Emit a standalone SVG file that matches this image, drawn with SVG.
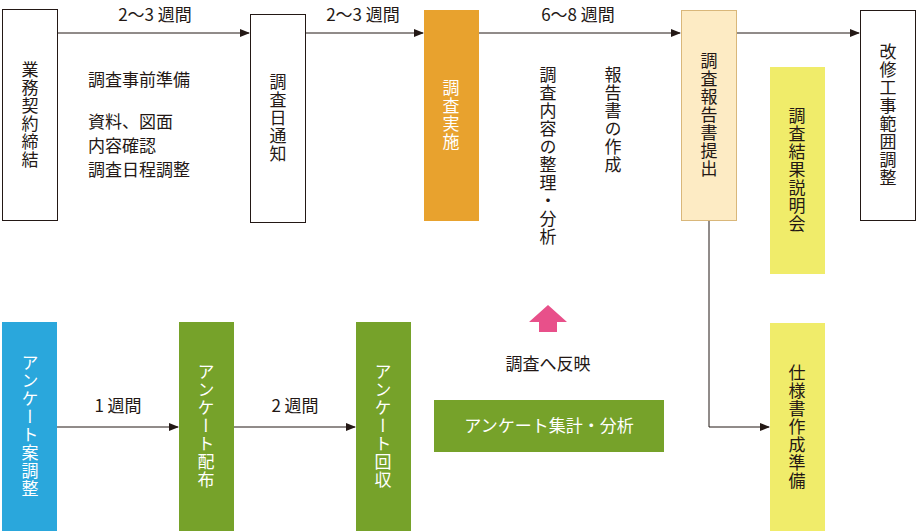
<svg xmlns="http://www.w3.org/2000/svg" width="917" height="532" viewBox="0 0 917 532">
<style>
text{font-family:"Noto Sans CJK JP","Noto Sans",sans-serif;font-size:17px;fill:#231815}
.v{writing-mode:vertical-rl;text-anchor:middle;letter-spacing:1px}
.w{fill:#fff}
.wb{fill:#fff;stroke:#231815;stroke-width:1}
.ln{stroke:#231815;stroke-width:1;fill:none}
</style>
<defs>
<marker id="a" markerWidth="10" markerHeight="8" refX="9" refY="4" orient="auto" markerUnits="userSpaceOnUse"><path d="M0,0 L10,4 L0,8 Z" fill="#231815"/></marker>
</defs>
<g id="connectors">
<line class="ln" x1="57" y1="33" x2="249" y2="33" marker-end="url(#a)"/>
<line class="ln" x1="305" y1="33" x2="423" y2="33" marker-end="url(#a)"/>
<line class="ln" x1="478" y1="33" x2="680" y2="33" marker-end="url(#a)"/>
<line class="ln" x1="736" y1="33" x2="859" y2="33" marker-end="url(#a)"/>
<line class="ln" x1="57" y1="427" x2="178" y2="427" marker-end="url(#a)"/>
<line class="ln" x1="234" y1="427" x2="355" y2="427" marker-end="url(#a)"/>
<path class="ln" d="M709,220 V427 H769" marker-end="url(#a)"/>
<path d="M548,305 L567,322 L557,322 L557,332 L539,332 L539,322 L529,322 Z" fill="#E8508A"/>
<text x="155" y="21" text-anchor="middle">2〜3 週間</text>
<text x="363" y="21" text-anchor="middle">2〜3 週間</text>
<text x="578" y="21" text-anchor="middle">6〜8 週間</text>
<text x="118" y="412" text-anchor="middle">1 週間</text>
<text x="295" y="412" text-anchor="middle">2 週間</text>
<text x="548" y="370" text-anchor="middle">調査へ反映</text>
</g>
<g id="notes">
<text x="88" y="86">調査事前準備</text>
<text x="88" y="128">資料、図面</text>
<text x="88" y="152">内容確認</text>
<text x="88" y="176">調査日程調整</text>
<text class="v" x="548" y="66" style="text-anchor:start">調査内容の整理・分析</text>
<text class="v" x="613" y="66" style="text-anchor:start">報告書の作成</text>
</g>
<g id="n1"><rect class="wb" x="2.5" y="9.5" width="55" height="211"/><text class="v" x="30" y="115">業務契約締結</text></g>
<g id="n2"><rect class="wb" x="250.5" y="14.5" width="55" height="208"/><text class="v" x="278" y="118">調査日通知</text></g>
<g id="n3"><rect x="424" y="10" width="55" height="211" fill="#E8A22E"/><text class="v w" x="451" y="115">調査実施</text></g>
<g id="n4"><rect x="681.5" y="10.5" width="55" height="210" fill="#FDEBC4" stroke="#D9B77A"/><text class="v" x="709" y="115">調査報告書提出</text></g>
<g id="n5"><rect class="wb" x="860.5" y="10.5" width="55" height="210"/><text class="v" x="888" y="115">改修工事範囲調整</text></g>
<g id="n6"><rect x="770" y="67" width="55" height="207" fill="#F0EC6A"/><text class="v" x="797" y="170">調査結果説明会</text></g>
<g id="n7"><rect x="770" y="323" width="55" height="208" fill="#F0EC6A"/><text class="v" x="797" y="427">仕様書作成準備</text></g>
<g id="n8"><rect x="2" y="322" width="55" height="209" fill="#2AA7DC"/><text class="v w" x="30" y="426">アンケート案調整</text></g>
<g id="n9"><rect x="179" y="322" width="55" height="209" fill="#76A22A"/><text class="v w" x="206" y="426">アンケート配布</text></g>
<g id="n10"><rect x="356" y="322" width="55" height="209" fill="#76A22A"/><text class="v w" x="383" y="426">アンケート回収</text></g>
<g id="n11"><rect x="434" y="400" width="230" height="52" fill="#76A22A"/><text class="w" x="549" y="432" text-anchor="middle">アンケート集計・分析</text></g>
</svg>
